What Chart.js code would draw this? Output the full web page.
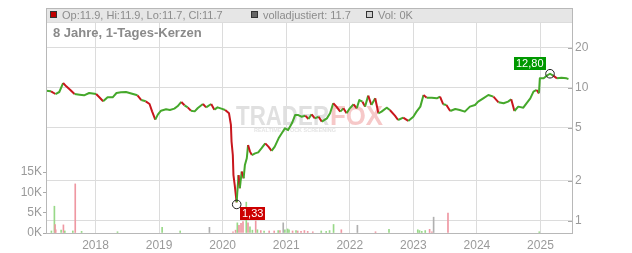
<!DOCTYPE html>
<html><head><meta charset="utf-8">
<script src="https://cdn.jsdelivr.net/npm/chart.js@4.4.1/dist/chart.umd.min.js"></script>
<style>html,body{margin:0;padding:0;background:#fff;overflow:hidden}canvas{display:block}</style>
</head><body><canvas id="c" width="632" height="253"></canvas>
<script>
// ---- data ----
const priceDates = [2017.22,2017.30,2017.37,2017.43,2017.49,2017.54,2017.60,2017.67,2017.75,2017.82,2017.90,
 2018.01,2018.06,2018.12,2018.19,2018.27,2018.33,2018.40,2018.48,2018.59,2018.66,2018.72,2018.79,2018.85,2018.89,2018.94,2018.98,
 2019.03,2019.11,2019.17,2019.24,2019.29,2019.35,2019.40,2019.45,2019.50,2019.56,2019.61,2019.69,2019.74,2019.82,2019.87,2019.92,2019.98,
 2020.04,2020.10,2020.13,2020.14,2020.16,2020.17,2020.19,2020.22,2020.25,2020.27,2020.30,2020.33,2020.35,2020.38,2020.40,2020.43,2020.46,
 2020.51,2020.56,2020.61,2020.67,2020.72,2020.77,2020.82,2020.88,2020.93,2020.98,
 2021.03,2021.09,2021.14,2021.19,2021.24,2021.30,2021.35,2021.40,2021.45,2021.51,2021.56,2021.64,2021.69,2021.74,2021.79,2021.85,2021.90,2021.95,
 2022.00,2022.06,2022.11,2022.15,2022.20,2022.24,2022.29,2022.34,2022.40,2022.45,2022.50,2022.58,2022.63,2022.71,2022.76,2022.84,2022.92,
 2023.00,2023.05,2023.11,2023.16,2023.21,2023.29,2023.37,2023.42,2023.47,2023.52,2023.58,2023.66,2023.73,2023.81,2023.89,2023.97,
 2024.02,2024.10,2024.18,2024.26,2024.34,2024.42,2024.49,2024.54,2024.59,2024.65,2024.73,2024.78,2024.84,2024.89,2024.94,2024.976,2024.99,
 2025.05,2025.10,2025.15,2025.20,2025.26,2025.33,2025.41,2025.44];
const priceValues = [9.55,9.44,9.01,9.33,10.90,10.29,9.71,9.01,8.91,8.81,9.17,
 9.01,8.51,7.94,8.51,8.51,9.17,9.28,9.33,9.01,8.81,8.12,7.94,7.58,6.67,5.78,6.30,
 6.75,6.91,6.83,6.99,7.28,7.85,7.41,7.15,6.75,6.67,7.07,7.58,7.15,7.58,6.87,7.15,6.99,
 6.83,6.45,5.27,3.95,3.13,2.21,1.86,1.38,2.21,1.76,2.35,2.09,2.63,2.96,3.72,3.32,3.13,
 3.22,3.28,3.51,3.83,3.62,3.36,3.62,4.18,4.56,4.97,
 4.83,5.42,6.26,6.26,6.08,6.19,5.84,6.34,5.91,6.08,5.58,5.91,6.45,7.67,7.24,6.64,7.03,6.45,
 7.03,7.54,7.03,8.12,7.89,7.24,8.76,7.45,8.36,6.45,6.64,7.11,6.83,6.19,5.74,5.98,5.65,
 6.08,6.64,7.24,8.86,8.46,8.46,8.36,8.61,7.54,7.45,6.71,6.95,6.83,6.64,7.24,7.45,
 7.89,8.36,8.86,8.61,7.80,7.67,7.89,8.22,6.71,7.24,7.11,7.67,8.36,9.38,9.66,9.12,11.82,
 11.82,12.38,12.80,12.38,11.82,11.96,11.82,11.70];

const volumeDates = [2017.306,2017.353,2017.364,2017.374,2017.459,2017.495,2017.517,2017.643,2017.681,2017.781,
 2018.346,2019.048,2019.332,2019.792,
 2020.163,2020.204,2020.231,2020.257,2020.289,2020.320,2020.372,2020.399,2020.430,2020.468,2020.520,2020.547,2020.600,2020.652,
 2020.732,2020.811,2020.874,2020.901,2020.953,2020.979,2021.022,2021.044,2021.100,2021.154,2021.181,2021.233,2021.286,2021.338,
 2021.418,2021.551,2021.629,2021.682,2021.745,2021.867,2022.120,2022.405,2022.617,
 2023.070,2023.097,2023.133,2023.187,2023.256,2023.292,2023.319,2023.545,2024.981];
const volumeValues = [500,6600,2100,800,700,2000,500,500,12100,400,
 300,1400,500,1400,
 300,700,2500,1900,2400,2800,7600,2500,1500,700,3000,800,600,500,
 500,500,600,600,2500,800,1000,800,500,600,500,400,600,400,
 300,500,400,600,2100,800,1900,300,900,
 800,600,400,600,900,300,3900,4900,300];
const volumeDirections = ['up','up','down','down','up','down','up','up','down','up',
 'up','up','up','flat',
 'down','down','up','down','down','down','up','down','up','up','down','up','down','up',
 'down','down','up','down','flat','up','up','up','down','up','down','down','down','down',
 'down','up','up','up','up','down','flat','down','up',
 'up','up','up','up','down','down','flat','down','up'];

const yearTicks = [2018,2019,2020,2021,2022,2023,2024,2025];
const priceTicks = [1,2,5,10,20];
const volumeTicks = [0,5000,10000,15000];
const xRange = [2017.221, 2025.496];
const priceRange = [0.8105, 31.38];
const volumeMax = 52000;

const lowPoint = {date: 2020.221, value: 1.33};
const highPoint = {date: 2025.15, value: 12.80};

const legendOHLC = 'Op:11.9, Hi:11.9, Lo:11.7, Cl:11.7';
const legendAdjusted = 'volladjustiert: 11.7';
const legendVolume = 'Vol: 0K';
const titleText = '8 Jahre, 1-Tages-Kerzen';

// ---- styles ----
const FONT = '"Liberation Sans", Arial, Helvetica, sans-serif';
const UP = '#45a82b', DOWN = '#c8161d';
const DOWN_THRESHOLD = 0.04; // relative drop shown in red
const volColors = {up:'#98d888', down:'#ef97a2', flat:'#b0b0b0'};
const GRID = '#dcdcdc', AXIS = '#b8b8b8', TXT = '#9a9a9a';

const deco = {
  id: 'deco',
  beforeDraw(chart) {
    const c = chart.ctx, a = chart.chartArea;
    c.save();
    c.fillStyle = '#fff'; c.fillRect(0, 0, chart.width, chart.height);
    c.fillStyle = '#e6e6e6'; c.fillRect(a.left, 8, a.right - a.left, a.top - 8);
    c.restore();
  },
  beforeDatasetsDraw(chart) {
    const c = chart.ctx, a = chart.chartArea;
    c.save();
    c.strokeStyle = GRID; c.lineWidth = 1;
    c.beginPath(); c.moveTo(a.left, a.top + 0.5); c.lineTo(a.right, a.top + 0.5); c.stroke();
    c.font = 'bold 27px ' + FONT; c.textBaseline = 'alphabetic'; c.textAlign = 'left';
    c.fillStyle = '#e0e0e0'; c.fillText('TRADER', 236, 125, 93);
    c.fillStyle = '#f6c8c8'; c.fillText('FOX', 330, 125, 53);
    c.font = 'bold 6px ' + FONT; c.fillStyle = '#e4e4e4';
    c.fillText('REALTIME STOCK SCREENING', 254, 132, 82);
    c.restore();
  },
  afterDatasetsDraw(chart) {
    const c = chart.ctx, xs = chart.scales.x, ys = chart.scales.yPrice;
    c.save();
    c.font = '11px ' + FONT; c.textBaseline = 'middle'; c.textAlign = 'center';
    const fmt = v => v.toFixed(2).replace('.', ',');
    let px = xs.getPixelForValue(lowPoint.date), py = ys.getPixelForValue(lowPoint.value);
    c.strokeStyle = '#222'; c.lineWidth = 1;
    c.beginPath(); c.arc(px, py, 4.3, 0, Math.PI * 2); c.stroke();
    let t = fmt(lowPoint.value), w = c.measureText(t).width + 4;
    c.fillStyle = '#cc0000'; c.fillRect(Math.round(px + 3), Math.round(py + 3), Math.round(w), 13);
    c.fillStyle = '#fff'; c.fillText(t, Math.round(px + 3) + w / 2, Math.round(py + 3) + 7);
    px = xs.getPixelForValue(highPoint.date); py = ys.getPixelForValue(highPoint.value);
    c.beginPath(); c.arc(px, py, 4.3, 0, Math.PI * 2); c.stroke();
    t = fmt(highPoint.value); w = c.measureText(t).width + 4;
    const bx = Math.round(px - 4 - w), by = Math.round(py - 4 - 13);
    c.fillStyle = '#009900'; c.fillRect(bx, by, Math.round(w), 13);
    c.fillStyle = '#fff'; c.fillText(t, bx + w / 2, by + 7);
    c.restore();
  },
  afterDraw(chart) {
    const c = chart.ctx, a = chart.chartArea, ys = chart.scales.yPrice;
    c.save();
    c.strokeStyle = AXIS; c.lineWidth = 1;
    c.strokeRect(a.left + 0.5, 8.5, a.right - a.left, a.bottom - 8);
    c.strokeStyle = '#aaa';
    priceTicks.forEach(v => {
      const y = Math.round(ys.getPixelForValue(v)) + 0.5;
      c.beginPath(); c.moveTo(a.right - 4, y); c.lineTo(a.right, y); c.stroke();
    });
    c.font = '11px ' + FONT; c.textBaseline = 'middle'; c.textAlign = 'left';
    const item = (x, fill, label) => {
      c.fillStyle = fill; c.fillRect(x, 11, 7, 7);
      c.strokeStyle = '#333'; c.strokeRect(x + 0.5, 11.5, 6, 6);
      c.fillStyle = '#8c8c8c'; c.fillText(label, x + 12, 15.5);
    };
    item(50, '#c00000', legendOHLC);
    item(251, '#666666', legendAdjusted);
    item(366, '#d0d0d0', legendVolume);
    c.font = 'bold 13px ' + FONT; c.fillStyle = '#8a8a8a';
    c.fillText(titleText, 53, 33.5);
    c.restore();
  }
};

new Chart(document.getElementById('c'), {
  data: {
    datasets: [
      {
        type: 'line', label: 'Kurs', yAxisID: 'yPrice', xAxisID: 'x', order: 1,
        data: priceDates.map((d, i) => ({x: d, y: priceValues[i]})),
        borderWidth: 2, pointRadius: 0, borderColor: UP, borderJoinStyle: 'round', tension: 0,
        segment: { borderColor: s => (s.p1.parsed.y < s.p0.parsed.y * (1 - DOWN_THRESHOLD)) ? DOWN : UP }
      },
      {
        type: 'bar', label: 'Volumen', yAxisID: 'yVol', xAxisID: 'x', order: 2,
        data: volumeDates.map((d, i) => ({x: d, y: volumeValues[i]})),
        backgroundColor: volumeDirections.map(k => volColors[k]),
        barThickness: 1, borderWidth: 0
      }
    ]
  },
  options: {
    responsive: false, animation: false, events: [],
    layout: { padding: { top: 22, left: 0, right: 0, bottom: 0 } },
    plugins: { legend: { display: false }, tooltip: { enabled: false } },
    scales: {
      x: {
        type: 'linear', min: xRange[0], max: xRange[1], offset: false,
        afterBuildTicks: s => { s.ticks = yearTicks.map(v => ({value: v})); },
        afterFit: s => { s.height = 20; },
        grid: { color: GRID, drawTicks: false, offset: false },
        border: { display: false },
        ticks: { callback: v => String(v), font: { family: FONT, size: 12 }, color: TXT, padding: 5, maxRotation: 0, autoSkip: false }
      },
      yPrice: {
        type: 'logarithmic', position: 'right', min: priceRange[0], max: priceRange[1],
        afterBuildTicks: s => { s.ticks = priceTicks.map(v => ({value: v})); },
        afterFit: s => { s.width = 60; },
        grid: { color: GRID, drawTicks: false },
        border: { display: false },
        ticks: { callback: v => String(v), font: { family: FONT, size: 12 }, color: TXT, padding: 3, autoSkip: false }
      },
      yVol: {
        type: 'linear', position: 'left', min: 0, max: volumeMax,
        afterBuildTicks: s => { s.ticks = volumeTicks.map(v => ({value: v})); },
        afterFit: s => { s.width = 46; },
        grid: { drawOnChartArea: false, drawTicks: true, tickLength: 3, color: '#aaa' },
        border: { display: false },
        ticks: { callback: v => (v / 1000) + 'K', font: { family: FONT, size: 12 }, color: TXT, padding: 1, autoSkip: false }
      }
    }
  },
  plugins: [deco]
});
</script></body></html>
